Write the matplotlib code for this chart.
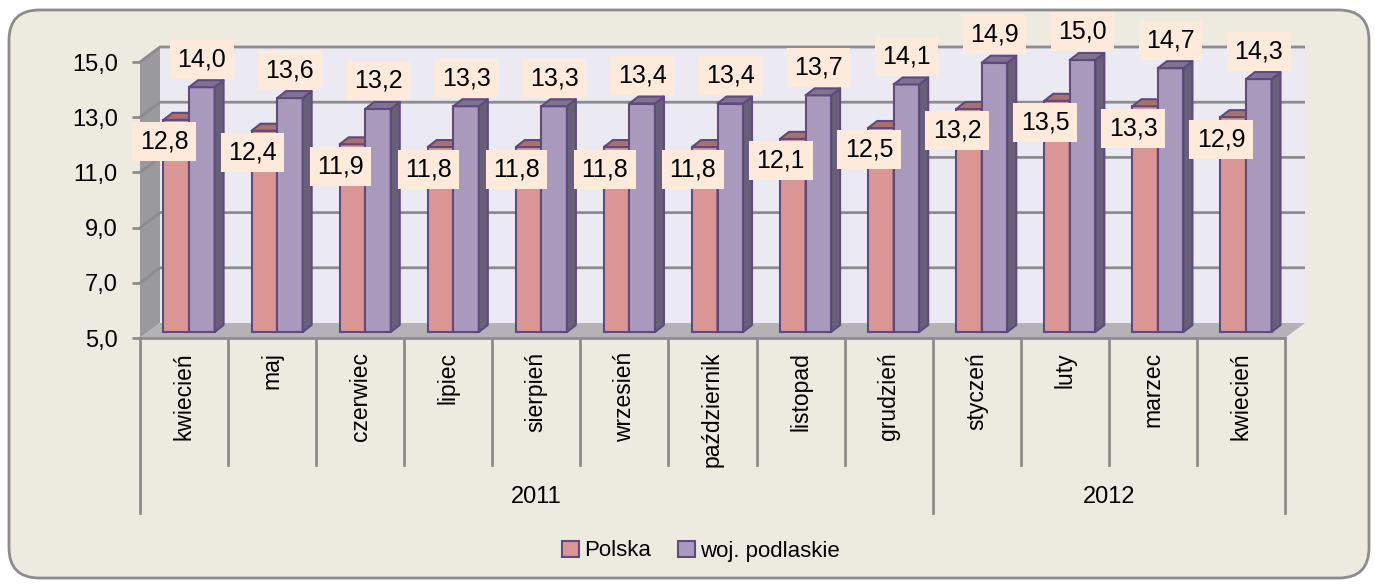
"""
Stopa bezrobocia: Polska vs woj. podlaskie (kwiecien 2011 - kwiecien 2012)
"""
import matplotlib
matplotlib.use('Agg')
import matplotlib.pyplot as plt
import numpy as np
from matplotlib.patches import Polygon, Patch, FancyBboxPatch
from matplotlib.ticker import FuncFormatter

plt.rcParams['font.family'] = ['Liberation Sans', 'DejaVu Sans']

# data
months = ['kwiecień', 'maj', 'czerwiec', 'lipiec', 'sierpień', 'wrzesień',
          'październik', 'listopad', 'grudzień', 'styczeń', 'luty', 'marzec', 'kwiecień']
years = ['2011', '2012']
months_per_year = [9, 4]
polska = [12.8, 12.4, 11.9, 11.8, 11.8, 11.8, 11.8, 12.1, 12.5, 13.2, 13.5, 13.3, 12.9]
podlaskie = [14.0, 13.6, 13.2, 13.3, 13.3, 13.4, 13.4, 13.7, 14.1, 14.9, 15.0, 14.7, 14.3]
series_names = ['Polska', 'woj. podlaskie']
yticks = [5, 7, 9, 11, 13, 15]

# colours
bg = '#EDEBE0'
grid_c = '#8C8C8C'
wall_c = '#EBE9F1'
side_wall_c = '#9A999E'
floor_c = '#B4B2B6'
edge_c = '#5E4A7C'
face = ['#D99694', '#A999BD']
side = ['#A06A67', '#676076']
cap = ['#A8716E', '#7F7292']
label_bg = '#FDEADA'

W, H = 1375, 588
fig = plt.figure(figsize=(W / 100, H / 100), dpi=100)
fig.patch.set_facecolor('white')


def frac(x0, y0, x1, y1):
    # pixel box (top-left origin) -> figure fraction rect
    return [x0 / W, 1 - y1 / H, (x1 - x0) / W, (y1 - y0) / H]


# rounded background panel
panel = FancyBboxPatch((9 / W, 10 / H), 1360 / W, 568 / H,
                       boxstyle='round,pad=0,rounding_size=0.022',
                       transform=fig.transFigure, fc=bg, ec=grid_c, lw=2,
                       mutation_aspect=W / H, zorder=-10)
fig.patches.append(panel)

n = len(months)

# front plane axes: walls, floor, grid, ticks, category labels
fr = fig.add_axes(frac(140, 62, 1285, 338))
fr.set_xlim(0, n)
fr.set_ylim(5, 15)
fr.patch.set_alpha(0)
for s in fr.spines.values():
    s.set_visible(False)

dx = 20 / (1145 / n)      # depth offset, data units
dy = 15 / (276 / 10)

fr.add_patch(Polygon([(dx, 5 + dy), (n + dx, 5 + dy), (n + dx, 15 + dy), (dx, 15 + dy)],
                     closed=True, fc=wall_c, ec='none', clip_on=False, zorder=0))
fr.add_patch(Polygon([(0, 5), (0, 15), (dx, 15 + dy), (dx, 5 + dy)],
                     closed=True, fc=side_wall_c, ec='none', clip_on=False, zorder=0))
fr.add_patch(Polygon([(0, 5), (n, 5), (n + dx, 5 + dy), (dx, 5 + dy)],
                     closed=True, fc=floor_c, ec='none', clip_on=False, zorder=1))
for v in yticks[1:]:
    fr.plot([0, dx, n + dx], [v, v + dy, v + dy], color=grid_c, lw=2,
            clip_on=False, zorder=0.5, solid_capstyle='butt')
fr.plot([0, n], [5, 5], color=grid_c, lw=2, clip_on=False, zorder=1.5)

fr.set_yticks(yticks)
fr.yaxis.set_major_formatter(FuncFormatter(lambda v, p: f'{v:.1f}'.replace('.', ',')))
fr.tick_params(axis='y', length=6, width=2, color=grid_c, pad=10, labelsize=17)
fr.set_xticks([])

# category separators and labels
scale = 276 / 10
group_edges = np.concatenate([[0], np.cumsum(months_per_year)])
for i in range(n + 1):
    low = 5 - 175 / scale if i in group_edges else 5 - 127 / scale
    fr.plot([i, i], [5, low], color=grid_c, lw=2, clip_on=False)
for i, m in enumerate(months):
    fr.text(i + 0.5, 5 - 14 / scale, m, rotation=90, ha='center', va='top', fontsize=16.5)
for k, yr in enumerate(years):
    fr.text((group_edges[k] + group_edges[k + 1]) / 2, 5 - 159 / scale, yr,
            ha='center', va='center', fontsize=17)

# bar plane axes (slightly behind the front plane)
ax = fig.add_axes(frac(145, 60, 1290, 332))
ax.set_xlim(0, n)
ax.set_ylim(5, 15)
ax.axis('off')

x = np.arange(n) + 0.5
width = 0.29
bdx = 9 / (1145 / n)
bdy = 7 / (272 / 10)

for k, (vals, off) in enumerate([(polska, -width / 2), (podlaskie, width / 2)]):
    vals = np.array(vals)
    bars = ax.bar(x + off, vals - 5, bottom=5, width=width, color=face[k],
                  edgecolor=edge_c, lw=1.5, zorder=2 + k, clip_on=False)
    for r in bars:
        x0, x1 = r.get_x(), r.get_x() + r.get_width()
        b, t = r.get_y(), r.get_y() + r.get_height()
        ax.add_patch(Polygon([(x1, b), (x1, t), (x1 + bdx, t + bdy), (x1 + bdx, b + bdy)],
                             closed=True, fc=side[k], ec=edge_c, lw=1.5,
                             zorder=2 + k, clip_on=False, joinstyle='round'))
        ax.add_patch(Polygon([(x0, t), (x0 + bdx, t + bdy), (x1 + bdx, t + bdy), (x1, t)],
                             closed=True, fc=cap[k], ec=edge_c, lw=1.5,
                             zorder=2 + k, clip_on=False, joinstyle='round'))

    for xi, v in zip(x + off, vals):
        if k == 0:
            offset = (-12 * 0.72, -22 * 0.72)
        else:
            offset = (0, 28 * 0.72)
        ax.annotate(f'{v:.1f}'.replace('.', ','), xy=(xi, v), xytext=offset,
                    textcoords='offset points', ha='center', va='center',
                    fontsize=18, zorder=6, annotation_clip=False,
                    bbox=dict(boxstyle='square,pad=0.3', fc=label_bg, ec='none'))

handles = [Patch(fc=face[0], ec=edge_c, lw=1.5), Patch(fc=face[1], ec=edge_c, lw=1.5)]
fig.legend(handles, series_names, loc='center', bbox_to_anchor=(0.51, 1 - 551 / H),
           ncol=2, frameon=False, fontsize=16, handlelength=0.75, handleheight=0.75,
           handletextpad=0.25, columnspacing=1.2)

fig.savefig('out.png', dpi=100, facecolor=fig.get_facecolor())
